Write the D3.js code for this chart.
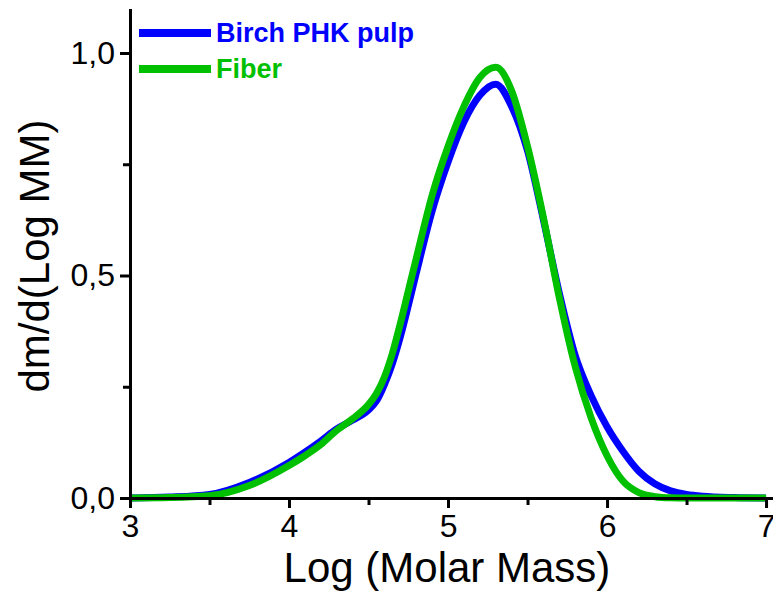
<!DOCTYPE html>
<html>
<head>
<meta charset="utf-8">
<script src="https://cdn.jsdelivr.net/npm/d3@7"></script>
<style>
  html, body { margin: 0; padding: 0; background: #fff; }
  svg { display: block; font-family: "Liberation Sans", Arial, sans-serif; }
</style>
</head>
<body>
<svg id="chart" width="773" height="596"></svg>
<script>
// Molar mass distribution: log(M) grid and dm/dlogM for each sample
const logMM = [3.0, 3.25, 3.5, 3.75, 4.0, 4.1, 4.2, 4.3, 4.4, 4.5, 4.55, 4.6, 4.65, 4.7, 4.75, 4.8, 4.9,
               5.0, 5.1, 5.2, 5.3, 5.4, 5.5, 5.6, 5.7, 5.8, 5.9, 6.0, 6.1, 6.2, 6.3,
               6.4, 6.5, 6.6, 6.8, 7.0];
const birchPulp = [0.0, 0.002, 0.008, 0.035, 0.08, 0.103, 0.128, 0.155, 0.175, 0.198, 0.218, 0.255, 0.302, 0.362, 0.432, 0.505, 0.645,
                   0.755, 0.845, 0.905, 0.93, 0.88, 0.78, 0.625, 0.46, 0.32, 0.23, 0.16, 0.105, 0.06, 0.032,
                   0.016, 0.008, 0.004, 0.001, 0.0];
const fiber = [0.0, 0.001, 0.005, 0.028, 0.073, 0.095, 0.12, 0.152, 0.178, 0.21, 0.235, 0.272, 0.325, 0.392, 0.465, 0.538, 0.68,
               0.79, 0.88, 0.945, 0.968, 0.915, 0.79, 0.63, 0.45, 0.295, 0.18, 0.095, 0.038, 0.012, 0.003,
               0.0005, 0.0, 0.0, 0.0, 0.0];
const seriesNames = ["Birch PHK pulp", "Fiber"];
const seriesColors = ["#0000ff", "#00c000"];
const xMajorTicks = [3, 4, 5, 6, 7];
const xMinorTicks = [3.5, 4.5, 5.5, 6.5];
const yMajorTicks = [0, 0.5, 1.0];
const yMinorTicks = [0.25, 0.75];

const svg = d3.select("#chart");
const x = d3.scaleLinear().domain([3, 7.05]).range([130, 774]);
const y = d3.scaleLinear().domain([0, 1.1]).range([498, 8.5]);
const commaFmt = v => d3.format(".1f")(v).replace(".", ",");

// Curves (Fiber drawn last so it sits on top)
const line = d3.line().x(d => x(d[0])).y(d => y(d[1])).curve(d3.curveMonotoneX);
[birchPulp, fiber].forEach((vals, i) => {
  svg.append("path")
    .datum(logMM.map((m, j) => [m, vals[j]]))
    .attr("fill", "none")
    .attr("stroke", seriesColors[i])
    .attr("stroke-width", 7)
    .attr("stroke-linejoin", "round")
    .attr("d", line);
});

function styleAxis(g) {
  g.select(".domain").attr("stroke", "#000").attr("stroke-width", 3);
  g.selectAll(".tick line").attr("stroke", "#000").attr("stroke-width", 3);
  g.selectAll(".tick text").attr("fill", "#000")
    .style("font-family", "'Liberation Sans', Arial, sans-serif").style("font-size", "32px");
}

// X axis
const gx = svg.append("g").attr("transform", "translate(0,498)");
gx.call(d3.axisBottom(x).tickValues(xMajorTicks).tickFormat(d3.format("d"))
  .tickSize(10).tickSizeOuter(0).tickPadding(6)).call(styleAxis);
svg.append("g").attr("transform", "translate(0,498)")
  .call(d3.axisBottom(x).tickValues(xMinorTicks).tickFormat("").tickSize(7).tickSizeOuter(0))
  .call(g => g.select(".domain").remove())
  .call(styleAxis);

// Y axis
const gy = svg.append("g").attr("transform", "translate(130,0)");
gy.call(d3.axisLeft(y).tickValues(yMajorTicks).tickFormat(commaFmt)
  .tickSize(10).tickSizeOuter(0).tickPadding(5)).call(styleAxis);
svg.append("g").attr("transform", "translate(130,0)")
  .call(d3.axisLeft(y).tickValues(yMinorTicks).tickFormat("").tickSize(7).tickSizeOuter(0))
  .call(g => g.select(".domain").remove())
  .call(styleAxis);

// Axis titles
svg.append("text")
  .attr("x", 447).attr("y", 582)
  .attr("text-anchor", "middle")
  .style("font-size", "42px").attr("fill", "#000")
  .text("Log (Molar Mass)");
svg.append("text")
  .attr("transform", "translate(49,256) rotate(-90)")
  .attr("text-anchor", "middle")
  .style("font-size", "42px").attr("fill", "#000")
  .text("dm/d(Log MM)");

// Legend
const legendY = [33, 69];
seriesNames.forEach((name, i) => {
  svg.append("line")
    .attr("x1", 139).attr("x2", 211)
    .attr("y1", legendY[i]).attr("y2", legendY[i])
    .attr("stroke", seriesColors[i]).attr("stroke-width", 8);
  svg.append("text")
    .attr("x", 216).attr("y", legendY[i] + 9)
    .style("font-size", "27px").style("font-weight", "bold")
    .attr("fill", seriesColors[i])
    .text(name);
});
</script>
</body>
</html>
